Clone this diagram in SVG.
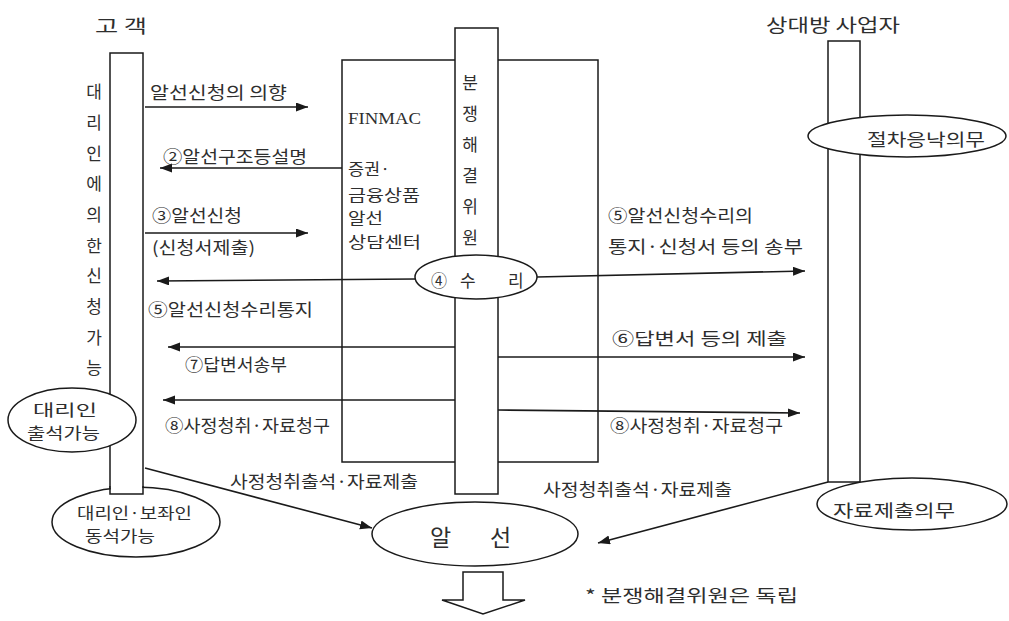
<svg xmlns="http://www.w3.org/2000/svg" width="1009" height="621" viewBox="0 0 1009 621">
<defs>
<marker id="ah" markerUnits="userSpaceOnUse" markerWidth="13" markerHeight="10" refX="12" refY="4.5" orient="auto">
<path d="M0,0 L12,4.5 L0,9 z" fill="#1a1a1a"/>
</marker>
<style>
.t{font-family:"Noto Sans CJK KR","Noto Sans",sans-serif;font-size:17px;fill:#2e2e2e;}
.m{font-family:"Noto Sans CJK KR","Noto Sans",sans-serif;font-size:15.5px;fill:#2e2e2e;}
.v{font-family:"Noto Sans CJK KR","Noto Sans",sans-serif;font-size:17px;fill:#2e2e2e;text-anchor:middle;}
.s{fill:#fff;stroke:#1a1a1a;stroke-width:1.5;}
.c{stroke:#1a1a1a;stroke-width:1.5;fill:none;}
.a{stroke:#1a1a1a;stroke-width:1.6;fill:none;marker-end:url(#ah);}
</style>
</defs>
<rect width="1009" height="621" fill="#fff"/>

<g id="titles">
<text class="t" x="95" y="33" style="font-size:18px" textLength="52" lengthAdjust="spacingAndGlyphs">고 객</text>
<text class="t" x="766" y="32" style="font-size:18px" textLength="134" lengthAdjust="spacingAndGlyphs">상대방 사업자</text>
</g>

<g id="finmac-box">
<rect class="s" x="342" y="60" width="256" height="402"/>
<text x="348" y="124" font-family="Liberation Serif, serif" font-size="16" fill="#2e2e2e" textLength="73" lengthAdjust="spacingAndGlyphs">FINMAC</text>
<text class="m" x="348" y="175" textLength="42" lengthAdjust="spacingAndGlyphs">증권·</text>
<text class="m" x="348" y="201" textLength="72" lengthAdjust="spacingAndGlyphs">금융상품</text>
<text class="m" x="348" y="224" textLength="35" lengthAdjust="spacingAndGlyphs">알선</text>
<text class="m" x="348" y="248" textLength="73" lengthAdjust="spacingAndGlyphs">상담센터</text>
</g>

<g id="committee">
<rect class="s" x="455" y="28" width="43" height="466"/>
<text class="v" x="470" y="89">분</text>
<text class="v" x="470" y="120">쟁</text>
<text class="v" x="470" y="151">해</text>
<text class="v" x="470" y="182">결</text>
<text class="v" x="470" y="213">위</text>
<text class="v" x="470" y="244">원</text>
</g>

<g id="customer">
<rect class="s" x="110" y="53" width="33" height="441"/>
<text class="v" x="94" y="98">대</text>
<text class="v" x="94" y="129">리</text>
<text class="v" x="94" y="160">인</text>
<text class="v" x="94" y="190">에</text>
<text class="v" x="94" y="221">의</text>
<text class="v" x="94" y="252">한</text>
<text class="v" x="94" y="282">신</text>
<text class="v" x="94" y="313">청</text>
<text class="v" x="94" y="344">가</text>
<text class="v" x="94" y="374">능</text>
</g>

<g id="counterparty">
<rect class="s" x="828" y="41" width="32" height="441"/>
</g>

<g id="agent-attend">
<ellipse class="s" cx="72" cy="420" rx="64" ry="32"/>
<text class="m" x="33" y="416" textLength="64" lengthAdjust="spacingAndGlyphs">대리인</text>
<text class="m" x="27" y="439" textLength="73" lengthAdjust="spacingAndGlyphs">출석가능</text>
</g>

<g id="agent-assist">
<ellipse class="s" cx="136" cy="522" rx="84" ry="35"/>
<rect x="110.75" y="486" width="31.5" height="7.25" fill="#fff"/>
<path class="c" d="M110,486 V494 H143 V486"/>
<text class="m" x="77" y="519" textLength="115" lengthAdjust="spacingAndGlyphs">대리인·보좌인</text>
<text class="m" x="85" y="542" textLength="70" lengthAdjust="spacingAndGlyphs">동석가능</text>
</g>

<g id="duty-accept">
<ellipse class="s" cx="907" cy="136" rx="99" ry="21"/>
<text class="t" x="867" y="146" textLength="118" lengthAdjust="spacingAndGlyphs">절차응낙의무</text>
</g>

<g id="duty-submit">
<ellipse class="s" cx="912" cy="504" rx="95" ry="26"/>
<text class="t" x="833" y="517" textLength="122" lengthAdjust="spacingAndGlyphs">자료제출의무</text>
</g>

<g id="receipt">
<ellipse class="s" cx="476" cy="277" rx="61" ry="22"/>
<text class="t" x="431" y="287" textLength="16" lengthAdjust="spacingAndGlyphs">④</text>
<text class="t" x="460" y="287">수</text>
<text class="t" x="508" y="287">리</text>
</g>

<g id="mediation">
<ellipse class="s" cx="475" cy="534" rx="103" ry="32"/>
<text class="t" x="430" y="546" style="font-size:23px">알</text>
<text class="t" x="490" y="546" style="font-size:23px">선</text>
</g>

<g id="result-arrow">
<polygon class="s" points="463,572 503,572 503,600 525,600 483,614 442,600 463,600"/>
</g>

<g id="connectors">
<line class="a" x1="145" y1="107" x2="308" y2="107"/>
<line class="a" x1="342" y1="168" x2="160" y2="168"/>
<line class="a" x1="145" y1="233" x2="308" y2="233"/>
<path class="a" d="M415,279 L157,281"/>
<path class="a" d="M537,277 L805,271"/>
<line class="a" x1="455" y1="347" x2="168" y2="347"/>
<line class="a" x1="498" y1="357" x2="805" y2="357"/>
<line class="a" x1="455" y1="400" x2="163" y2="400"/>
<path class="a" d="M498,410 L800,413"/>
<path class="a" d="M145,468 L372,528"/>
<path class="a" d="M828,482 L598,543"/>
</g>

<g id="labels">
<text class="t" x="150" y="99" textLength="137" lengthAdjust="spacingAndGlyphs">알선신청의 의향</text>
<text class="t" x="163" y="163" textLength="144" lengthAdjust="spacingAndGlyphs">②알선구조등설명</text>
<text class="t" x="152" y="222" textLength="90" lengthAdjust="spacingAndGlyphs">③알선신청</text>
<text class="t" x="152" y="254" textLength="103" lengthAdjust="spacingAndGlyphs">(신청서제출)</text>
<text class="t" x="148" y="316" textLength="165" lengthAdjust="spacingAndGlyphs">⑤알선신청수리통지</text>
<text class="t" x="185" y="371" textLength="102" lengthAdjust="spacingAndGlyphs">⑦답변서송부</text>
<text class="t" x="165" y="432" textLength="165" lengthAdjust="spacingAndGlyphs">⑧사정청취·자료청구</text>
<text class="t" x="230" y="488" textLength="188" lengthAdjust="spacingAndGlyphs">사정청취출석·자료제출</text>
<text class="t" x="608" y="222" textLength="145" lengthAdjust="spacingAndGlyphs">⑤알선신청수리의</text>
<text class="t" x="608" y="253" textLength="195" lengthAdjust="spacingAndGlyphs">통지·신청서 등의 송부</text>
<text class="t" x="612" y="345" textLength="175" lengthAdjust="spacingAndGlyphs">⑥답변서 등의 제출</text>
<text class="t" x="610" y="432" textLength="173" lengthAdjust="spacingAndGlyphs">⑧사정청취·자료청구</text>
<text class="t" x="543" y="496" textLength="189" lengthAdjust="spacingAndGlyphs">사정청취출석·자료제출</text>
<text class="t" x="585" y="602" textLength="213" lengthAdjust="spacingAndGlyphs">* 분쟁해결위원은 독립</text>
</g>
</svg>
